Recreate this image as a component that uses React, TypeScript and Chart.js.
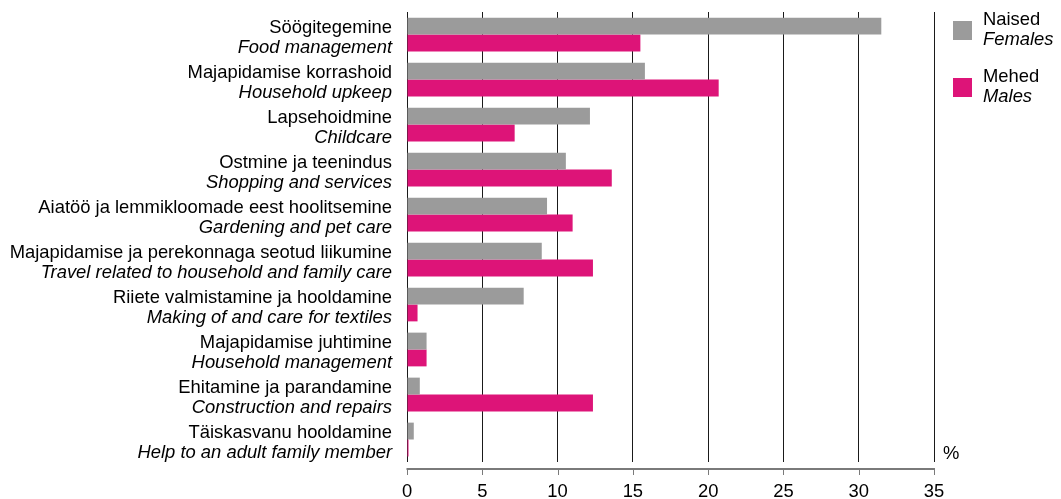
import React, { useEffect, useRef } from "react";
import { Chart, registerables } from "chart.js";

Chart.register(...registerables);

const categoriesEt = [
  "Söögitegemine",
  "Majapidamise korrashoid",
  "Lapsehoidmine",
  "Ostmine ja teenindus",
  "Aiatöö ja lemmikloomade eest hoolitsemine",
  "Majapidamise ja perekonnaga seotud liikumine",
  "Riiete valmistamine ja hooldamine",
  "Majapidamise juhtimine",
  "Ehitamine ja parandamine",
  "Täiskasvanu hooldamine",
];

const categoriesEn = [
  "Food management",
  "Household upkeep",
  "Childcare",
  "Shopping and services",
  "Gardening and pet care",
  "Travel related to household and family care",
  "Making of and care for textiles",
  "Household management",
  "Construction and repairs",
  "Help to an adult family member",
];

const females = [31.5, 15.8, 12.15, 10.55, 9.3, 8.95, 7.75, 1.3, 0.85, 0.45];
const males = [15.5, 20.7, 7.15, 13.6, 11.0, 12.35, 0.7, 1.3, 12.35, 0.1];

const xTicks = [0, 5, 10, 15, 20, 25, 30, 35];

const legendEt = ["Naised", "Mehed"];
const legendEn = ["Females", "Males"];
const unitLabel = "%";

const GRAY = "#9b9b9b";
const MAGENTA = "#dd1478";
const FONT = "'Liberation Sans', Arial, Helvetica, sans-serif";
const FS = 18.4;

const labelsPlugin = {
  id: "customLabels",
  afterDraw(chart: any) {
    const { ctx, chartArea } = chart;
    const yScale = chart.scales.y;
    const xScale = chart.scales.x;
    ctx.save();
    ctx.fillStyle = "#000";
    ctx.textAlign = "right";
    ctx.textBaseline = "alphabetic";
    const lx = chartArea.left - 15;
    categoriesEt.forEach((t, i) => {
      const yc = yScale.getPixelForValue(i);
      ctx.font = `${FS}px ${FONT}`;
      ctx.fillText(t, lx, yc - 2);
      ctx.font = `italic ${FS}px ${FONT}`;
      ctx.fillText(categoriesEn[i], lx, yc + 18);
    });

    // bottom axis line and ticks
    const ay = chartArea.bottom + 7;
    ctx.strokeStyle = "#7a7a7a";
    ctx.lineWidth = 2;
    ctx.beginPath();
    ctx.moveTo(chartArea.left - 0.5, ay);
    ctx.lineTo(chartArea.right + 0.5, ay);
    ctx.stroke();
    ctx.lineWidth = 1;
    xTicks.forEach((v) => {
      const x = Math.round(xScale.getPixelForValue(v)) + 0.5;
      ctx.beginPath();
      ctx.moveTo(x, ay - 1);
      ctx.lineTo(x, ay + 6);
      ctx.stroke();
    });

    // legend
    const colors = [GRAY, MAGENTA];
    const lx0 = chartArea.right + 19;
    const tops = [21, 78];
    ctx.textAlign = "left";
    colors.forEach((c, i) => {
      ctx.fillStyle = c;
      ctx.fillRect(lx0, tops[i], 19, 19);
      ctx.fillStyle = "#000";
      ctx.font = `${FS}px ${FONT}`;
      ctx.fillText(legendEt[i], lx0 + 30, tops[i] + 4);
      ctx.font = `italic ${FS}px ${FONT}`;
      ctx.fillText(legendEn[i], lx0 + 30, tops[i] + 24);
    });

    // unit
    ctx.font = `${FS}px ${FONT}`;
    ctx.fillText(unitLabel, chartArea.right + 9, 459);
    ctx.restore();
  },
};

export default function App() {
  const ref = useRef<HTMLCanvasElement | null>(null);
  useEffect(() => {
    if (!ref.current) return;
    const chart = new Chart(ref.current, {
      type: "bar",
      data: {
        labels: categoriesEt,
        datasets: [
          {
            label: "Naised Females",
            data: females,
            backgroundColor: GRAY,
            borderWidth: 0,
            categoryPercentage: 0.75,
            barPercentage: 1,
          },
          {
            label: "Mehed Males",
            data: males,
            backgroundColor: MAGENTA,
            borderWidth: 0,
            categoryPercentage: 0.75,
            barPercentage: 1,
          },
        ],
      },
      options: {
        indexAxis: "y",
        animation: false,
        responsive: false,
        maintainAspectRatio: false,
        layout: { padding: { left: 407, right: 127, top: 12, bottom: 0 } },
        plugins: {
          legend: { display: false },
          tooltip: { enabled: false },
          title: { display: false },
        },
        scales: {
          x: {
            type: "linear",
            min: 0,
            max: 35,
            afterBuildTicks: (scale: any) => {
              scale.ticks = xTicks.map((v) => ({ value: v }));
            },
            afterFit: (scale: any) => {
              scale.height = 37;
            },
            grid: {
              color: "#1a1a1a",
              lineWidth: 1,
              drawTicks: false,
            },
            border: { display: false },
            ticks: {
              padding: 19,
              color: "#000",
              font: { size: FS, family: FONT },
              maxRotation: 0,
            },
          },
          y: {
            type: "category",
            grid: { display: false },
            border: { display: false },
            ticks: { display: false },
            afterFit: (scale: any) => {
              scale.width = 0;
            },
          },
        },
      },
      plugins: [labelsPlugin],
    });
    return () => chart.destroy();
  }, []);
  return (
    <div style={{ position: "fixed", left: 0, top: 0, width: 1061, height: 499, background: "#fff" }}>
      <canvas ref={ref} width={1061} height={499} style={{ width: 1061, height: 499, display: "block" }} />
    </div>
  );
}
